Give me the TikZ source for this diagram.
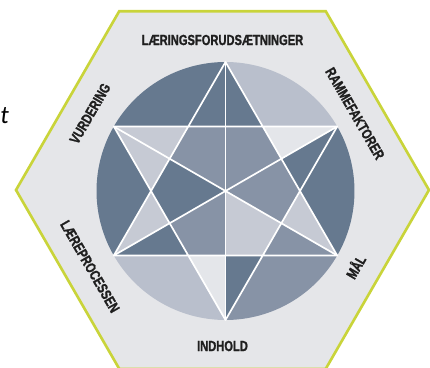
\documentclass[tikz,border=0pt]{standalone}
\usepackage{fontspec}
\usepackage{tikz}
\usetikzlibrary{calc}
\newfontfamily\lblfont{Liberation Sans}[BoldFont={Liberation Sans Bold}, FakeStretch=0.76, BoldFeatures={FakeBold=1.2}]
\newfontfamily\notefont{Carlito}
\definecolor{rimgreen}{RGB}{201,212,58}
\definecolor{hexgray}{RGB}{229,230,233}
\definecolor{dk}{RGB}{102,121,143}
\definecolor{md}{RGB}{135,147,166}
\definecolor{lt}{RGB}{185,191,204}
\definecolor{lt2}{RGB}{198,202,212}
\definecolor{vl}{RGB}{228,230,234}

\begin{document}
\begin{tikzpicture}
\tikzstyle{every node}=[font=\lblfont\bfseries\fontsize{13.9}{14}\selectfont, text=black!88];
\tikzstyle{cut}=[white, line width=1.6pt, line join=round];
\useasboundingbox (-7.517,-5.867) rectangle (6.817,6.367);
   % hexagon frame
   \coordinate (hc) at (-0.1,0.033);
   \draw[rimgreen, line width=2.5pt, fill=hexgray, shift={(hc)}]
     (0:6.883) -- (60:6.883) -- (120:6.883) -- (180:6.883) -- (240:6.883) -- (300:6.883) -- cycle;
   % pieces between the star points
  \foreach \a/\c in {30/lt,90/dk,150/dk,210/lt,270/md,330/dk}
    \fill[\c] (\a:4.3) arc[start angle=\a, end angle=\a+60, radius=4.3] -- ({\a+30}:2.483) -- cycle;
   % star points, two halves each
  \foreach \a/\c/\d in {90/dk/dk,30/vl/dk,-30/lt2/md,-90/dk/vl,210/dk/lt2,150/lt2/lt2} {
    \fill[\c] (\a:4.3) -- ({\a+30}:2.483) -- (\a:2.15) -- cycle;
    \fill[\d] (\a:4.3) -- (\a:2.15) -- ({\a-30}:2.483) -- cycle;
  }
   % inner hexagon
  \foreach \a/\c in {0/md,60/md,120/md,180/dk,240/md,300/lt2}
    \fill[\c] (0,0) -- ({\a-30}:2.15) -- (\a:2.483) -- ({\a+30}:2.15) -- cycle;
   % star lines
  \foreach \a/\n in {90/a,30/b,-30/c,-90/d,-150/e,150/f}
    \coordinate (\n) at (\a:4.3);
   \draw[cut] (a) -- (e) -- (c) -- cycle (d) -- (f) -- (b) -- cycle;
  \foreach \from/\to in {a/d,b/e,f/c}
    \draw[cut] (\from) -- (\to);
   % labels
  \foreach \a/\d/\r/\n/\t in {90/5.0/0/lf/LÆRINGSFORUDSÆTNINGER, 30/5.1/-60/rf/RAMMEFAKTORER,
      -30/5.1/60/ml/MÅL, -90/5.2/0/ih/INDHOLD, 210/5.1/-60/lp/LÆREPROCESSEN, 150/5.1/60/vd/VURDERING}
    \node[rotate=\r] (\n) at ($(hc)+(\a:\d)$) {\t};
   \node[font=\notefont\itshape\fontsize{24}{24}\selectfont, text=black] (tt) at (-7.36,2.5) {t};
\end{tikzpicture}
\end{document}
